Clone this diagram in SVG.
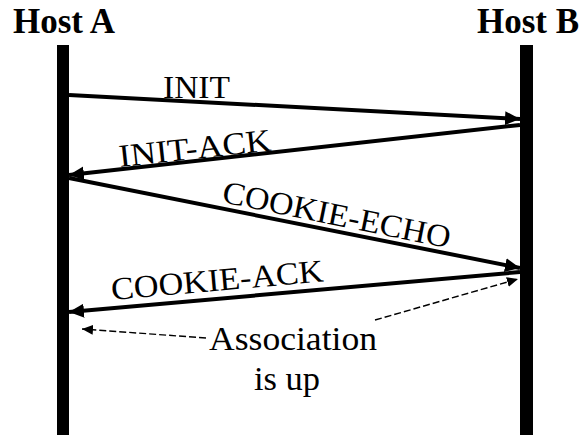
<svg xmlns="http://www.w3.org/2000/svg" width="582" height="435" viewBox="0 0 582 435">
  <style>
    .host { font-family: "Liberation Serif", "Times New Roman", serif; font-weight: bold; font-size: 35px; fill: #000; }
    .msg { font-family: "Liberation Serif", "Times New Roman", serif; font-size: 32px; fill: #000; }
    .note { font-family: "Liberation Serif", "Times New Roman", serif; font-size: 34px; fill: #000; }
    .life { fill: #000; }
    .arrow { stroke: #000; stroke-width: 4; fill: none; marker-end: url(#head); }
    .dash { stroke: #000; stroke-width: 1.4; stroke-dasharray: 7 3; fill: none; marker-end: url(#smallhead); }
  </style>
  <defs>
    <marker id="head" markerUnits="userSpaceOnUse" markerWidth="16" markerHeight="14" refX="15" refY="7" orient="auto">
      <path d="M0,0 L15,7 L0,14 Z" fill="#000"/>
    </marker>
    <marker id="smallhead" markerUnits="userSpaceOnUse" markerWidth="12" markerHeight="10" refX="11" refY="5" orient="auto">
      <path d="M0,0 L11,5 L0,10 Z" fill="#000"/>
    </marker>
  </defs>
  <rect width="582" height="435" fill="#fff"/>

  <g id="hostA">
    <text class="host" x="13" y="33">Host A</text>
    <rect class="life" x="57" y="45" width="12" height="390"/>
  </g>
  <g id="hostB">
    <text class="host" x="477" y="33">Host B</text>
    <rect class="life" x="520" y="45" width="13" height="390"/>
  </g>

  <g id="connectors">
    <line class="arrow" x1="69" y1="95" x2="520" y2="119"/>
    <line class="arrow" x1="520" y1="125" x2="69" y2="175"/>
    <line class="arrow" x1="69" y1="178" x2="520" y2="268"/>
    <line class="arrow" x1="520" y1="272" x2="69" y2="312"/>
    <line class="dash" x1="206" y1="338" x2="82" y2="329"/>
    <line class="dash" x1="375" y1="320" x2="518" y2="279"/>
  </g>

  <g id="labels">
    <text class="msg" x="163" y="98" textLength="67" lengthAdjust="spacingAndGlyphs">INIT</text>
    <text class="msg" transform="translate(120,167) rotate(-6.2)" textLength="153" lengthAdjust="spacingAndGlyphs">INIT-ACK</text>
    <text class="msg" transform="translate(221,202) rotate(11.5)" textLength="232" lengthAdjust="spacingAndGlyphs">COOKIE-ECHO</text>
    <text class="msg" transform="translate(112,300) rotate(-5)" textLength="213" lengthAdjust="spacingAndGlyphs">COOKIE-ACK</text>
  </g>

  <g id="note">
    <text class="note" x="209" y="350" textLength="168" lengthAdjust="spacingAndGlyphs">Association</text>
    <text class="note" x="254" y="390" textLength="66" lengthAdjust="spacingAndGlyphs">is up</text>
  </g>
</svg>
